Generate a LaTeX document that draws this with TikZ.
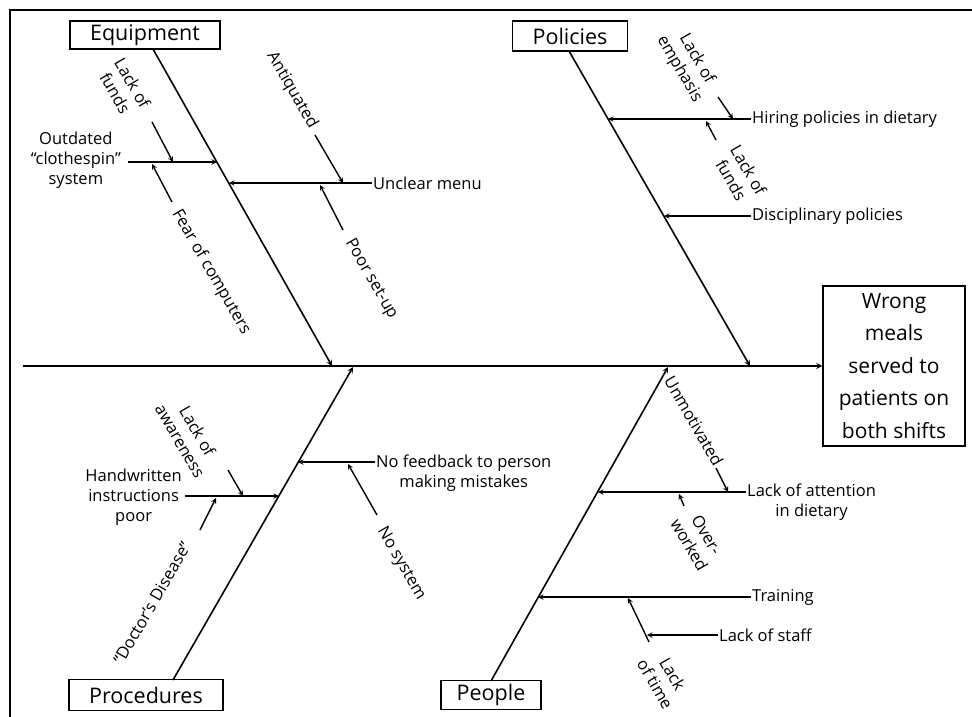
\documentclass[tikz,border=0pt]{standalone}
\usepackage{fontspec}
\setmainfont{Open Sans}
\usetikzlibrary{calc}

\begin{document}
\begin{tikzpicture}[>=stealth, x=1pt, y=-1pt,
    bone/.style={line width=1.6pt},
    twig/.style={line width=1.4pt},
    cat/.style={draw, line width=1.3pt, inner sep=0pt, font=\fontsize{21.5}{23}\selectfont},
    lbl/.style={inner sep=1pt, align=center, font=\fontsize{16.5}{20}\selectfont}]

    % --- 1. 枠 ---
    \useasboundingbox (0,0) rectangle (972,717);
    \draw[line width=1.2pt] (10,717) -- (10,10) -- (972,10);

    % --- 2. 結果と背骨 ---
    \node[draw, line width=1.5pt, minimum width=142pt, minimum height=160pt, align=center,
          font=\fontsize{21}{32.5}\selectfont] (effect) at (894,366)
          {Wrong\\meals\\served to\\patients on\\both shifts};
    \coordinate (tail) at (23,366);
    \draw[bone, ->] (tail) -- (effect.west);

    % --- 3. 分類の箱と大骨 ---
    \node[cat, minimum width=150pt, minimum height=28pt] (equip) at (145,35) {Equipment};
    \node[cat, minimum width=115pt, minimum height=30pt] (polic) at (570,36) {Policies};
    \node[cat, minimum width=154pt, minimum height=31pt] (proc) at (146,695) {Procedures};
    \node[cat, minimum width=100pt, minimum height=29pt] (peop) at (491,695) {People};

    \coordinate (eqA) at (153,49);  \coordinate (eqB) at (332,366);
    \coordinate (poA) at (569,51);  \coordinate (poB) at (750,366);
    \coordinate (prA) at (173,680); \coordinate (prB) at (353,367);
    \coordinate (peA) at (491,681); \coordinate (peB) at (668,367);
    \foreach \a/\b in {eqA/eqB, poA/poB, prA/prB, peA/peB}
        \draw[bone, ->] (\a) -- (\b);

    % --- 4. Equipment ---
    \coordinate (menuS) at (372,183); \coordinate (menuE) at (229,183);
    \draw[twig, ->] (menuS) -- (menuE);
    \node[lbl, anchor=west] (menu) at (menuS) {Unclear menu};
    \coordinate (antS) at (315,135); \coordinate (antE) at (343,183);
    \draw[twig, ->] (antS) -- (antE);
    \node[lbl, rotate=-60] (ant) at (292,90) {Antiquated};
    \coordinate (setS) at (343,230); \coordinate (setE) at (320,185);
    \draw[twig, ->] (setS) -- (setE);
    \node[lbl, rotate=-60] (setup) at (371,279) {Poor set-up};

    \coordinate (clS) at (128,162); \coordinate (clE) at (217,162);
    \draw[twig, ->] (clS) -- (clE);
    \node[lbl, anchor=east] (cloth) at (122,160) {Outdated\\``clothespin''\\system};
    \coordinate (fuS) at (152,122); \coordinate (fuE) at (173,162);
    \draw[twig, ->] (fuS) -- (fuE);
    \node[lbl, rotate=-60] (funds) at (124,88) {Lack of\\funds};
    \coordinate (feS) at (172,202); \coordinate (feE) at (152,164);
    \draw[twig, ->] (feS) -- (feE);
    \node[lbl, rotate=-60] (fear) at (211,272) {Fear of computers};

    % --- 5. Policies ---
    \coordinate (hiS) at (751,119); \coordinate (hiE) at (608,119);
    \draw[twig, ->] (hiS) -- (hiE);
    \node[lbl, anchor=west] (hire) at (hiS) {Hiring policies in dietary};
    \coordinate (emS) at (718,97); \coordinate (emE) at (733,119);
    \draw[twig, ->] (emS) -- (emE);
    \node[lbl, rotate=-60] (emph) at (688,64) {Lack of\\emphasis};
    \coordinate (pfS) at (716,140); \coordinate (pfE) at (706,121);
    \draw[twig, ->] (pfS) -- (pfE);
    \node[lbl, rotate=-60] (pfunds) at (740,175) {Lack of\\funds};

    \coordinate (diS) at (751,216); \coordinate (diE) at (664,216);
    \draw[twig, ->] (diS) -- (diE);
    \node[lbl, anchor=west] (disc) at (diS) {Disciplinary policies};

    % --- 6. Procedures ---
    \coordinate (nfS) at (375,462); \coordinate (nfE) at (298,462);
    \draw[twig, ->] (nfS) -- (nfE);
    \node[lbl, anchor=west] (feed) at ([yshift=-11pt]nfS) {No feedback to person\\making mistakes};
    \coordinate (nsS) at (377,515); \coordinate (nsE) at (348,464);
    \draw[twig, ->] (nsS) -- (nsE);
    \node[lbl, rotate=-60] (nosys) at (401,564) {No system};

    \coordinate (hwS) at (185,496); \coordinate (hwE) at (279,496);
    \draw[twig, ->] (hwS) -- (hwE);
    \node[lbl, anchor=east] (hand) at (183,497) {Handwritten\\instructions\\poor};
    \coordinate (awS) at (228,470); \coordinate (awE) at (243,496);
    \draw[twig, ->] (awS) -- (awE);
    \node[lbl, rotate=-60] (aware) at (189,436) {Lack of\\awareness};
    \coordinate (dcS) at (200,530); \coordinate (dcE) at (216,498);
    \draw[twig, ->] (dcS) -- (dcE);
    \node[lbl, rotate=60] (doctor) at (152,603) {``Doctor's Disease''};

    % --- 7. People ---
    \coordinate (atS) at (746,492); \coordinate (atE) at (598,492);
    \draw[twig, ->] (atS) -- (atE);
    \node[lbl, anchor=west] (attn) at ([yshift=-10pt]atS) {Lack of attention\\in dietary};
    \coordinate (umS) at (716,468); \coordinate (umE) at (728,492);
    \draw[twig, ->] (umS) -- (umE);
    \node[lbl, rotate=-60] (unmot) at (694,421) {Unmotivated};
    \coordinate (owS) at (684,506); \coordinate (owE) at (679,494);
    \draw[twig, ->] (owS) -- (owE);
    \node[lbl, rotate=-60] (over) at (698,540) {Over-\\worked};

    \coordinate (trS) at (751,597); \coordinate (trE) at (538,597);
    \draw[twig, ->] (trS) -- (trE);
    \node[lbl, anchor=west] (train) at (trS) {Training};
    \coordinate (tiS) at (649,642); \coordinate (tiE) at (628,598);
    \draw[twig, ->] (tiS) -- (tiE);
    \node[lbl, rotate=-60] (time) at (664,679) {Lack\\of time};
    \coordinate (stS) at (718,635); \coordinate (stE) at (647,635);
    \draw[twig, ->] (stS) -- (stE);
    \node[lbl, anchor=west] (staff) at (stS) {Lack of staff};

\end{tikzpicture}
\end{document}
